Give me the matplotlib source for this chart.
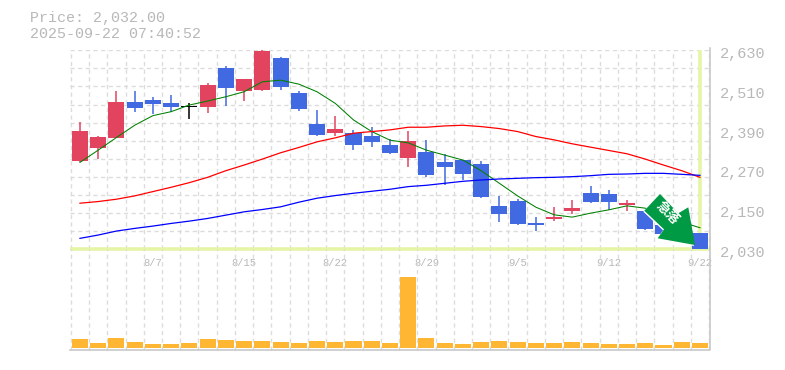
import numpy as np
import matplotlib
matplotlib.use('Agg')
from matplotlib import pyplot as plt
from matplotlib.patches import Polygon

dates = {4: '8/7', 9: '8/15', 14: '8/22', 19: '8/29', 24: '9/5', 29: '9/12', 34: '9/22'}
price_ticks = [2630, 2510, 2390, 2270, 2150, 2030]

opens = [2297, 2335, 2366, 2474, 2480, 2471, 2461, 2459, 2577, 2507, 2510, 2607, 2501,
         2408, 2381, 2381, 2371, 2344, 2305, 2323, 2293, 2299, 2287, 2160, 2175,
         2110, 2122, 2146, 2200, 2197, 2164, 2146, 2104, 2076, 2079]
highs = [2414, 2372, 2507, 2507, 2489, 2495, 2471, 2531, 2583, 2543, 2631, 2610, 2507,
         2450, 2432, 2390, 2399, 2362, 2387, 2359, 2317, 2299, 2296, 2191, 2181,
         2128, 2158, 2179, 2221, 2209, 2179, 2146, 2110, 2080, 2079]
lows = [2294, 2302, 2366, 2444, 2438, 2444, 2423, 2441, 2462, 2477, 2507, 2510, 2447,
        2371, 2371, 2329, 2338, 2317, 2278, 2248, 2224, 2239, 2185, 2112, 2103,
        2085, 2116, 2137, 2170, 2149, 2146, 2089, 2070, 2055, 2030]
closes = [2387, 2369, 2474, 2456, 2468, 2459, 2461, 2525, 2516, 2543, 2628, 2519, 2453,
          2374, 2393, 2344, 2353, 2320, 2356, 2254, 2278, 2257, 2188, 2136, 2106,
          2104, 2128, 2155, 2173, 2173, 2170, 2092, 2076, 2060, 2032]
ma_short = [2292, 2329, 2367, 2404, 2433, 2445, 2465, 2477, 2490, 2505, 2535, 2540, 2528,
            2505, 2470, 2420, 2385, 2359, 2351, 2329, 2314, 2299, 2267, 2229, 2191,
            2157, 2134, 2127, 2139, 2149, 2161, 2154, 2134, 2112, 2095]
ma_mid = [2169, 2174, 2181, 2191, 2204, 2217, 2231, 2247, 2267, 2284, 2302, 2321, 2337,
          2354, 2366, 2380, 2385, 2390, 2398, 2398, 2402, 2404, 2400, 2394, 2385,
          2370, 2360, 2348, 2338, 2328, 2318, 2302, 2284, 2267, 2247]
ma_long = [2063, 2073, 2085, 2093, 2100, 2108, 2115, 2123, 2133, 2143, 2150, 2158, 2172,
           2184, 2192, 2199, 2205, 2211, 2219, 2223, 2229, 2235, 2239, 2242, 2244,
           2246, 2247, 2249, 2252, 2256, 2257, 2259, 2259, 2256, 2253]
volume = [9, 5, 10, 6, 4, 4, 5, 9, 8, 7, 7, 6, 5, 7, 6, 7, 7, 5,
          71, 10, 5, 4, 6, 7, 6, 5, 5, 6, 5, 4, 4, 5, 3, 6, 5]

W, H = 785, 370
LEFT, RIGHT = 70.3, 710.0
TOP, MID, BOTTOM = 50.3, 249.3, 350.0
GREY = '#b8b8b8'
GRID = '#dcdcdc'
UP, DOWN, FLAT = '#e2445f', '#4169e1', '#000000'
LIME = '#e4f5a6'
MONO = 'Liberation Mono'

fig = plt.figure(figsize=(W / 100, H / 100), dpi=100)
ax = fig.add_axes([LEFT / W, 1 - MID / H, (RIGHT - LEFT) / W, (MID - TOP) / H])
vol = fig.add_axes([LEFT / W, 1 - BOTTOM / H, (RIGHT - LEFT) / W, (BOTTOM - MID) / H], sharex=ax)

x = np.arange(len(closes))
edges = np.arange(len(closes) + 1) - 0.5

for a in (ax, vol):
    a.set_facecolor('none')
    a.set_xticks(edges, minor=True)
    a.grid(True, which='minor', axis='x', color=GRID, lw=1.0, ls=(0, (3, 2.5)))
    a.tick_params(which='both', length=0)
    a.set_axisbelow(True)
    for s in a.spines.values():
        s.set_visible(False)

ax.set_xlim(-0.53, 34.55)
ax.set_ylim(2030, 2630)
ax.set_yticks(np.linspace(2030, 2630, 12))
ax.set_yticklabels([])
ax.grid(True, which='major', axis='y', color=GRID, lw=1.0, ls=(0, (3, 2.5)))
ax.set_xticks(list(dates.keys()))
ax.set_xticklabels(list(dates.values()), family=MONO, fontsize=7.6, color=GREY)
ax.tick_params(axis='x', pad=6.5)

# lime cross at the last price
ax.axhline(2030, color=LIME, lw=2.6, zorder=1.5, clip_on=False, solid_capstyle='butt')
ax.axvline(34, color=LIME, lw=2.6, zorder=1.5, solid_capstyle='butt')

for i in x:
    c = UP if closes[i] > opens[i] else DOWN if closes[i] < opens[i] else FLAT
    ax.vlines(i, lows[i], highs[i], color=c, lw=1.1, zorder=3, clip_on=False)
    body = max(abs(closes[i] - opens[i]), 5)
    ax.bar(i, body, bottom=min(opens[i], closes[i]) - (0 if closes[i] != opens[i] else 2.5),
           width=0.88, color=c, zorder=3, clip_on=False)

ax.plot(x, ma_short, color='#008000', lw=0.75, zorder=4)
ax.plot(x, ma_mid, color='#ff0000', lw=0.9, zorder=4)
ax.plot(x, ma_long, color='#0000ff', lw=0.9, zorder=4)

for p in price_ticks:
    ax.annotate(f'{p:,}', (1, p), xycoords=('axes fraction', 'data'), xytext=(7, -2.6),
                textcoords='offset points', family=MONO, fontsize=11, color=GREY,
                va='center', ha='left', annotation_clip=False)

vol.bar(x, volume, width=0.88, color='#ffb733', zorder=3)
vol.set_ylim(-2, BOTTOM - MID - 2)
vol.set_yticks([])
plt.setp(vol.get_xticklabels(which='both'), visible=False)

# overlay in pixel units for frame, header and the badge
over = fig.add_axes([0, 0, 1, 1])
over.set_xlim(0, W)
over.set_ylim(H, 0)
over.axis('off')
over.patch.set_alpha(0)
over.plot([RIGHT, RIGHT, LEFT], [TOP - 2, BOTTOM, BOTTOM], color='#c4c4c4', lw=1.1)
over.text(30, 18, 'Price: 2,032.00', family=MONO, fontsize=10.8, color=GREY, va='center')
over.text(30, 33.5, '2025-09-22 07:40:52', family=MONO, fontsize=10.8, color=GREY, va='center')

arrow = np.array([[660, 194], [644.3, 210.7], [664, 229.3], [657.7, 238.3],
                  [695, 245], [688.3, 207.3], [678.3, 213.3]])
over.add_patch(Polygon(arrow + [-1, 1], closed=True, fc='white', ec='none', zorder=5))
over.add_patch(Polygon(arrow, closed=True, fc='#009944', ec='none', zorder=6))
over.text(667.5, 212.5, '\u6025\u843d', family=['Noto Sans CJK JP', 'DejaVu Sans'], fontsize=9.5, color='white',
          weight='bold', rotation=-45, rotation_mode='anchor', ha='center', va='center', zorder=7)

fig.savefig('out.png', dpi=100)
